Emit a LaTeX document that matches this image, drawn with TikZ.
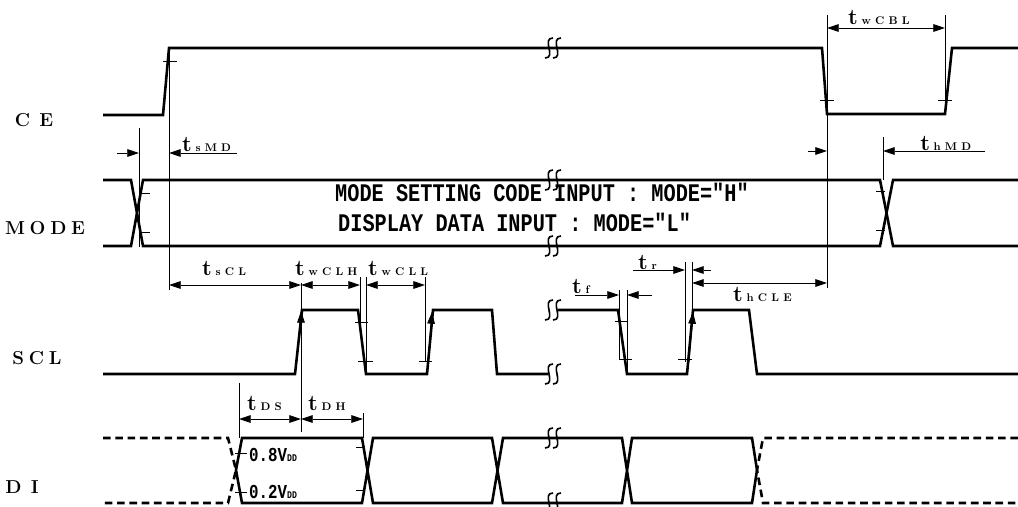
\documentclass[tikz,border=0pt]{standalone}
\usepackage{fontspec}
\setmonofont{Liberation Mono}
\usepackage{tikz}
\usetikzlibrary{arrows.meta,positioning,calc}

\tikzset{
  sig/.style={line width=2.2pt, line join=miter},
  dsig/.style={line width=2.2pt, dash pattern=on 6.5pt off 4pt},
  guide/.style={line width=0.7pt},
  tck/.style={line width=0.7pt},
  dimarr/.style={line width=0.7pt, {Triangle[length=10pt,width=6.5pt]}-{Triangle[length=10pt,width=6.5pt]}},
  onearr/.style={line width=0.7pt, -{Triangle[length=10pt,width=6.5pt]}},
  brkline/.style={line width=1.4pt},
  siglabel/.style={font=\fontsize{16}{16}\selectfont\bfseries},
  tlabel/.style={font=\fontsize{19}{19}\selectfont, anchor=west, inner sep=0pt},
  modetext/.style={font=\fontsize{17.3}{20}\selectfont\ttfamily\bfseries, anchor=west, inner sep=0pt},
  vddtext/.style={font=\fontsize{13.5}{13.5}\selectfont\ttfamily\bfseries, anchor=west, inner sep=0pt}
}
\newcommand{\ls}{\hspace{4pt}}
\newcommand{\tsub}[1]{\textbf{t}\hspace{3pt}{\fontsize{9.5}{9.5}\selectfont\bfseries #1}}
\newcommand{\tall}[1]{\scalebox{1}[1.25]{#1}}
\newcommand{\brk}[1]{%
  \draw[brkline,shift={(#1)}] (0,-10) .. controls (-12,-10) and (4,10) .. (-8,10);
  \draw[brkline,shift={(#1)}] (8,-10) .. controls (-4,-10) and (12,10) .. (0,10);}

\begin{document}
\begin{tikzpicture}[x=0.03cm,y=-0.03cm]
    \useasboundingbox (0,0) rectangle (1018,506);

    % Signal names
    \node[siglabel] (lce) at (34,120) {C\ls\ls E};
    \node[siglabel] (lmode) at (45,228) {M\ls O\ls D\ls E};
    \node[siglabel] (lscl) at (37,358) {S\ls C\ls L};
    \node[siglabel] (ldi) at (22,487) {D\ls\ls I};

    % CE
    \draw[sig] (103,115) -- (163,115) -- (169,48) -- (822,48) -- (827,114) -- (945,114) -- (952,48) -- (1018,48);
    \brk{553,48}
    \draw[tck] (163,61) -- (177,61);
    \draw[tck] (820,100) -- (834,100);
    \draw[tck] (938,100) -- (952,100);

    % MODE
    \draw[sig] (103,180) -- (131,180) -- (143,246) -- (880,246) -- (893,180) -- (1018,180);
    \draw[sig] (103,246) -- (131,246) -- (143,180) -- (880,180) -- (893,246) -- (1018,246);
    \brk{553,180}
    \brk{553,246}
    \draw[tck] (140,193) -- (150,193);
    \draw[tck] (140,232) -- (150,232);
    \draw[tck] (876,191) -- (885,191);
    \draw[tck] (876,230) -- (885,230);
    \node[modetext] (mset) at (335,192) {\tall{MODE SETTING CODE INPUT : MODE="H"}};
    \node[modetext] (mdisp) at (338,222) {\tall{DISPLAY DATA INPUT : MODE="L"}};

    % SCL
    \draw[sig] (103,374) -- (295,374) -- (302,310) -- (358,310) -- (366,374) -- (427,374) -- (433,310) -- (492,310) -- (497,374) -- (548,374);
    \draw[sig] (558,310) -- (618,310) -- (627,374) -- (687,374) -- (693,310) -- (749,310) -- (757,374) -- (1018,374);
    \brk{553,310}
    \brk{553,374}
    \draw[tck] (355,322) -- (368,322);
    \draw[tck] (358,361) -- (373,361);
    \draw[tck] (419,361) -- (432,361);
    \draw[tck] (615,321) -- (628,321);
    \draw[tck] (620,359) -- (632,359);
    \draw[tck] (678,359) -- (692,359);

    % DI
    \draw[dsig] (103,438) -- (228,438) -- (236,470) -- (228,503) -- (103,503);
    \draw[dsig] (1018,438) -- (763,438) -- (757,470) -- (763,503) -- (1018,503);
    \draw[sig] (236,470) -- (242,438) -- (362,438) -- (373,503) -- (492,503) -- (503,438) -- (622,438) -- (632,503) -- (752,503) -- (757,470)
      -- (752,438) -- (632,438) -- (622,503) -- (503,503) -- (492,438) -- (373,438) -- (362,503) -- (242,503) -- cycle;
    \brk{553,438}
    \brk{553,503}
    \draw[tck] (235,453) -- (247,453);
    \draw[tck] (235,492) -- (247,492);
    \draw[tck] (356,447) -- (364,447);
    \draw[tck] (356,490) -- (364,490);
    \node[vddtext] (vhi) at (249,455) {\tall{0.8V{\fontsize{7}{7}\selectfont DD}}};
    \node[vddtext] (vlo) at (249,492) {\tall{0.2V{\fontsize{7}{7}\selectfont DD}}};

    % guide lines
    \draw[guide] (169,50) -- (169,290);
    \draw[guide] (139,128) -- (139,247);
    \draw[guide] (827,15) -- (827,288);
    \draw[guide] (945,15) -- (945,100);
    \draw[guide] (883,137) -- (883,180);
    \draw[onearr] (301,432) -- (301,311);
    \draw[guide] (301,311) -- (301,283);
    \draw[guide] (360,277) -- (360,323);
    \draw[guide] (366,277) -- (366,374);
    \draw[guide] (425,277) -- (425,362);
    \draw[onearr] (428,362) -- (432,312);
    \draw[guide] (619,290) -- (619,360);
    \draw[guide] (627,290) -- (627,374);
    \draw[guide] (685,262) -- (685,362);
    \draw[guide] (692,262) -- (692,310);
    \draw[onearr] (689,362) -- (693,312);
    \draw[guide] (239,383) -- (239,438);
    \draw[guide] (363,413) -- (363,438);

    % timing arrows
    \draw[dimarr] (827,28) -- (945,28);
    \node[tlabel] (twcbl) at (848,17) {\tsub{w C B L}};
    \draw[onearr] (117,153) -- (139,153);
    \draw[onearr] (237,153) -- (169,153);
    \node[tlabel] (tsmd) at (182,144) {\tsub{s M D}};
    \draw[onearr] (808,151) -- (827,151);
    \draw[onearr] (985,151) -- (883,151);
    \node[tlabel] (thmd) at (920,143) {\tsub{h M D}};
    \draw[dimarr] (169,285) -- (301,285);
    \node[tlabel] (tscl) at (202,268) {\tsub{s C L}};
    \draw[dimarr] (301,285) -- (360,285);
    \node[tlabel] (twclh) at (295,268) {\tsub{w C L H}};
    \draw[dimarr] (366,285) -- (425,285);
    \node[tlabel] (twcll) at (368,268) {\tsub{w C L L}};
    \draw[onearr] (575,295) -- (619,295);
    \draw[onearr] (652,295) -- (627,295);
    \node[tlabel] (tf) at (572,286) {\tsub{f}};
    \draw[onearr] (633,270) -- (685,270);
    \draw[onearr] (711,270) -- (692,270);
    \node[tlabel] (tr) at (638,262) {\tsub{r}};
    \draw[dimarr] (692,283) -- (827,283);
    \node[tlabel] (thcle) at (733,294) {\tsub{h C L E}};
    \draw[dimarr] (239,419) -- (301,419);
    \node[tlabel] (tds) at (247,403) {\tsub{D S}};
    \draw[dimarr] (301,419) -- (363,419);
    \node[tlabel] (tdh) at (308,403) {\tsub{D H}};
\end{tikzpicture}
\end{document}
